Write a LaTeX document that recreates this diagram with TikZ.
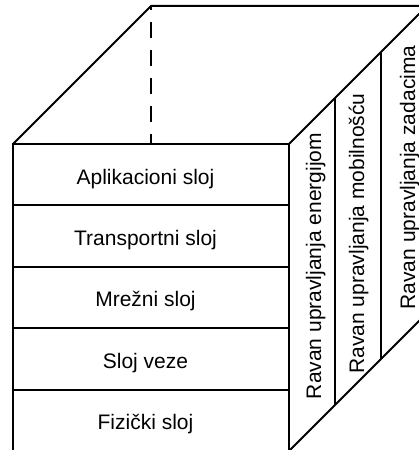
\documentclass[tikz,border=0pt]{standalone}
\usepackage{fontspec}
\setmainfont{Liberation Sans}

\begin{document}
\begin{tikzpicture}[x=1pt,y=1pt,line width=2pt,node distance=61.4pt,
    layer/.style={draw,minimum width=276pt,minimum height=61.4pt,inner sep=0pt,outer sep=0pt,
        text height=21pt,text depth=2pt,font=\fontsize{21}{25}\selectfont,
        execute at end node={\hspace*{11pt}}},
    plane/.style={rotate=90,anchor=base,inner sep=0pt,font=\fontsize{21}{25}\selectfont}]
    \useasboundingbox (0,0) rectangle (419,450);
    \clip (0,0) rectangle (419,450);

    % front face: protocol layers
    \node[layer] (app) at (151,275.3) {Aplikacioni sloj};
    \node[layer] (trans) [below of=app] {Transportni sloj};
    \node[layer] (net) [below of=trans] {Mrežni sloj};
    \node[layer] (link) [below of=net] {Sloj veze};
    \node[layer] (phys) [below of=link] {Fizički sloj};

    % depth of the cube
    \coordinate (btl) at ([shift={(138,138)}]app.north west);
    \coordinate (btr) at ([shift={(138,138)}]app.north east);
    \coordinate (bbr) at ([shift={(138,138)}]phys.south east);

    \draw (app.north west) -- (btl) -- (btr);
    \draw[dash pattern=on 16pt off 12pt,dash phase=12pt] (btl) -- (btl |- app.north);
    \draw (app.north east) -- (btr);
    \draw (phys.south east) -- (bbr);
    \foreach \d in {46,92}
        \draw ([shift={(\d,\d)}]app.north east) -- ([shift={(\d,\d)}]phys.south east);

    % management planes
    \node[plane] (energy) at ([shift={(32,31.5)}]net.east) {Ravan upravljanja energijom};
    \node[plane] (mobility) at ([shift={(75,64)}]net.east) {Ravan upravljanja mobilnošću};
    \node[plane] (task) at ([shift={(126,120)}]net.east) {Ravan upravljanja zadacima};
\end{tikzpicture}
\end{document}
